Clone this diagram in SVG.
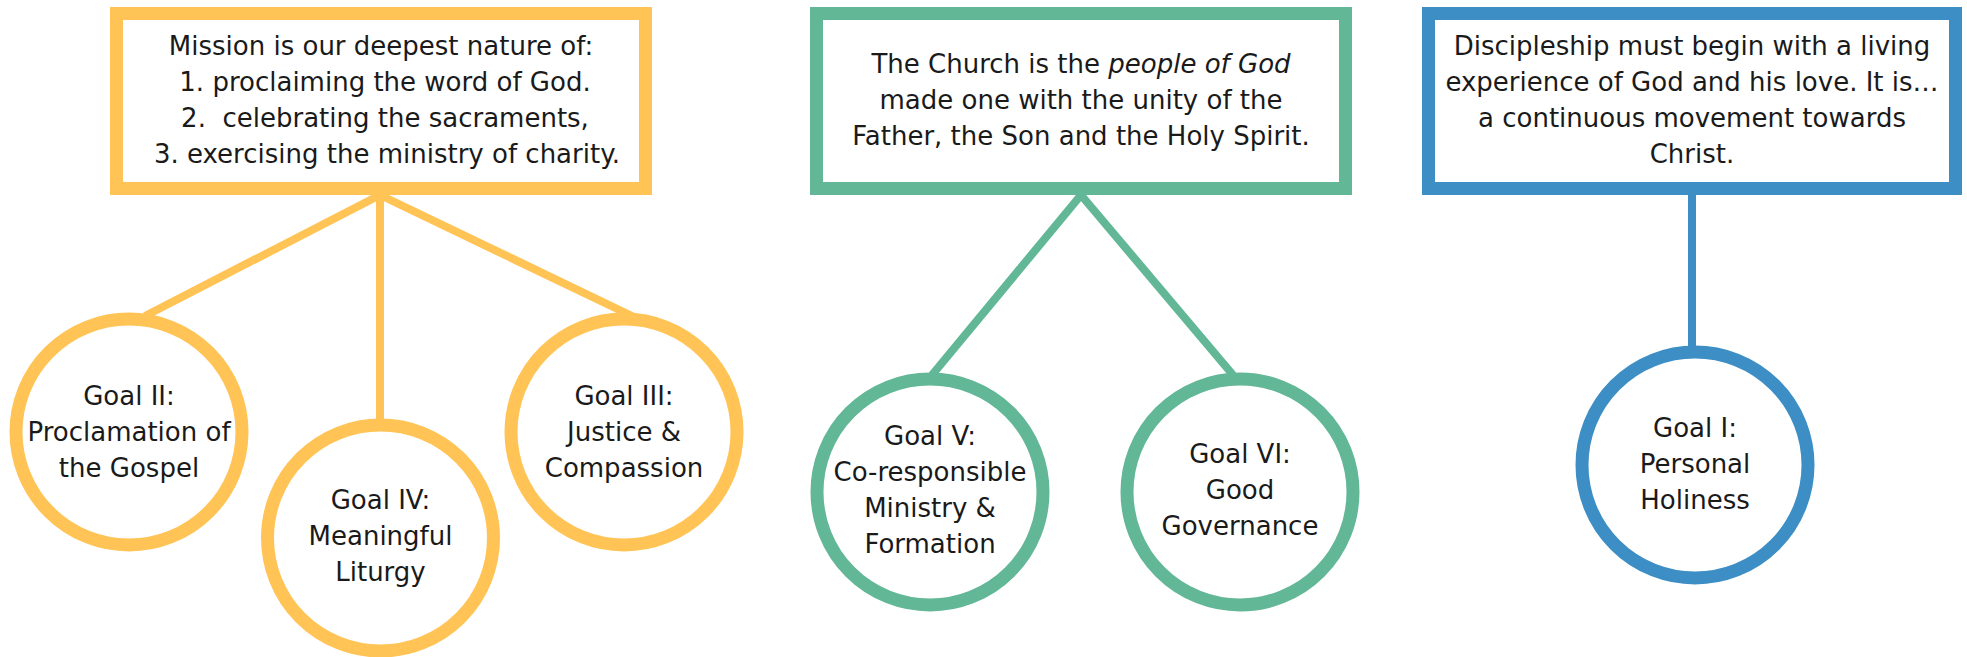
<svg xmlns="http://www.w3.org/2000/svg" width="1967" height="657" viewBox="0 0 1967 657">
<style>
  .t { font-family: "DejaVu Sans", "Liberation Sans", sans-serif; font-size: 26px; fill: #1a1a1a; text-anchor: middle; }
  .box { fill: #ffffff; stroke-width: 13; }
  .circ { fill: #ffffff; stroke-width: 13; }
  .y { stroke: #FFC455; }
  .g { stroke: #62B797; }
  .b { stroke: #3C8EC4; }
  .ln { stroke-width: 8; fill: none; }
</style>
<rect width="1967" height="657" fill="#ffffff"/>
<g id="connectors">
  <line class="ln y" x1="380" y1="195" x2="145" y2="316"/>
  <line class="ln y" x1="380" y1="195" x2="380" y2="420"/>
  <line class="ln y" x1="380" y1="195" x2="632" y2="316"/>
  <line class="ln g" x1="1081" y1="195" x2="932" y2="375"/>
  <line class="ln g" x1="1081" y1="195" x2="1233" y2="375"/>
  <line class="ln b" x1="1692" y1="195" x2="1692" y2="347"/>
</g>
<g id="box-mission">
  <rect class="box y" x="116.5" y="13.5" width="529" height="175"/>
  <text class="t" x="381" y="55">Mission is our deepest nature of:</text>
  <text class="t" x="385" y="91">1. proclaiming the word of God.</text>
  <text class="t" x="385" y="127" xml:space="preserve">2.  celebrating the sacraments,</text>
  <text class="t" x="387" y="163">3. exercising the ministry of charity.</text>
</g>
<g id="box-church">
  <rect class="box g" x="816.5" y="13.5" width="529" height="175"/>
  <text class="t" x="1081" y="73">The Church is the <tspan font-style="italic">people of God</tspan></text>
  <text class="t" x="1081" y="109">made one with the unity of the</text>
  <text class="t" x="1081" y="145">Father, the Son and the Holy Spirit.</text>
</g>
<g id="box-discipleship">
  <rect class="box b" x="1428.5" y="13.5" width="527" height="175"/>
  <text class="t" x="1692" y="55">Discipleship must begin with a living</text>
  <text class="t" x="1692" y="91">experience of God and his love. It is…</text>
  <text class="t" x="1692" y="127">a continuous movement towards</text>
  <text class="t" x="1692" y="163">Christ.</text>
</g>
<g id="goal-2">
  <circle class="circ y" cx="129" cy="432" r="113"/>
  <text class="t" x="129" y="405">Goal II:</text>
  <text class="t" x="129" y="441">Proclamation of</text>
  <text class="t" x="129" y="477">the Gospel</text>
</g>
<g id="goal-4">
  <circle class="circ y" cx="380.5" cy="538" r="113"/>
  <text class="t" x="380.5" y="509">Goal IV:</text>
  <text class="t" x="380.5" y="545">Meaningful</text>
  <text class="t" x="380.5" y="581">Liturgy</text>
</g>
<g id="goal-3">
  <circle class="circ y" cx="624" cy="432" r="113"/>
  <text class="t" x="624" y="405">Goal III:</text>
  <text class="t" x="624" y="441">Justice &amp;</text>
  <text class="t" x="624" y="477">Compassion</text>
</g>
<g id="goal-5">
  <circle class="circ g" cx="930" cy="492" r="113"/>
  <text class="t" x="930" y="445">Goal V:</text>
  <text class="t" x="930" y="481">Co-responsible</text>
  <text class="t" x="930" y="517">Ministry &amp;</text>
  <text class="t" x="930" y="553">Formation</text>
</g>
<g id="goal-6">
  <circle class="circ g" cx="1240" cy="492" r="113"/>
  <text class="t" x="1240" y="463">Goal VI:</text>
  <text class="t" x="1240" y="499">Good</text>
  <text class="t" x="1240" y="535">Governance</text>
</g>
<g id="goal-1">
  <circle class="circ b" cx="1695" cy="465" r="113"/>
  <text class="t" x="1695" y="437">Goal I:</text>
  <text class="t" x="1695" y="473">Personal</text>
  <text class="t" x="1695" y="509">Holiness</text>
</g>
</svg>
